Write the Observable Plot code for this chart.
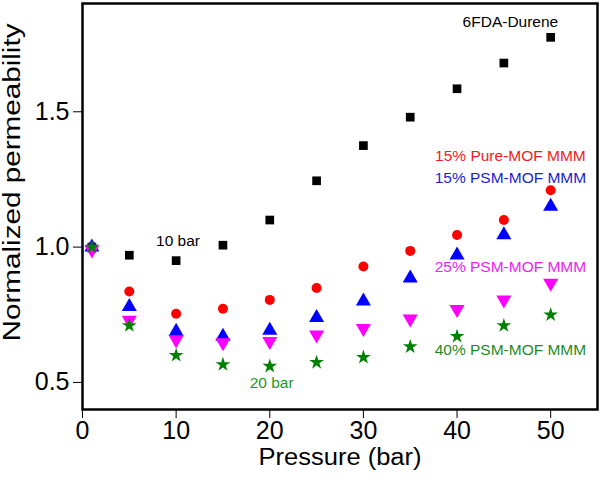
<!DOCTYPE html>
<html><head><meta charset="utf-8">
<script src="https://cdn.jsdelivr.net/npm/d3@7"></script>
<script src="https://cdn.jsdelivr.net/npm/@observablehq/plot@0.6"></script>
<style>body{margin:0;background:#fff;} svg{display:block;}</style>
</head><body><div id="chart"></div>
<script>
const pressure = [1, 5, 10, 15, 20, 25, 30, 35, 40, 45, 50];
const durene   = [1.00, 0.97, 0.95, 1.007, 1.10, 1.245, 1.375, 1.48, 1.585, 1.68, 1.775];
const pure15   = [1.00, 0.836, 0.754, 0.772, 0.805, 0.849, 0.928, 0.986, 1.045, 1.10, 1.21];
const psm15    = [1.00, 0.78, 0.688, 0.67, 0.692, 0.739, 0.80, 0.885, 0.97, 1.045, 1.15];
const psm25    = [0.99, 0.73, 0.658, 0.647, 0.652, 0.676, 0.70, 0.735, 0.77, 0.805, 0.867];
const psm40    = [1.00, 0.71, 0.60, 0.566, 0.56, 0.574, 0.593, 0.632, 0.67, 0.71, 0.75];
const xTicks = [0, 10, 20, 30, 40, 50];
const yTicks = [0.5, 1.0, 1.5];
const labels = [
  {text: "6FDA-Durene", x: 45.7, y: 1.83, color: "#000000"},
  {text: "10 bar", x: 10.2, y: 1.022, color: "#000000"},
  {text: "15% Pure-MOF MMM", x: 45.7, y: 1.338, color: "#ee1c24"},
  {text: "15% PSM-MOF MMM", x: 45.7, y: 1.254, color: "#1c1ccc"},
  {text: "25% PSM-MOF MMM", x: 45.7, y: 0.926, color: "#ee22ee"},
  {text: "40% PSM-MOF MMM", x: 45.7, y: 0.618, color: "#1f8a1f"},
  {text: "20 bar", x: 20.2, y: 0.496, color: "#1f9a1f"}
];
const series = [
  {values: durene, symbol: "square", color: "#000000", r: 4.9, rotate: 0},
  {values: pure15, symbol: "circle", color: "#ff0000", r: 5, rotate: 0},
  {values: psm15, symbol: "triangle", color: "#0000ff", r: 5.6, rotate: 0},
  {values: psm25, symbol: "triangle", color: "#ff00ff", r: 5.6, rotate: 180},
  {values: psm40, symbol: "star", color: "#008000", r: 4.6, rotate: 0}
];
const dotMarks = series.map(s => Plot.dot(pressure.map((p, i) => ({x: p, y: s.values[i]})), {
  x: "x", y: "y", symbol: () => s.symbol, fill: s.color, stroke: "none", r: s.r, rotate: s.rotate
}));
const chart = Plot.plot({
  width: 600, height: 482,
  marginLeft: 82, marginRight: 3, marginTop: 3, marginBottom: 73,
  style: {fontFamily: "'Liberation Sans', Arial, sans-serif", background: "#fff"},
  x: {domain: [0, 55]},
  y: {domain: [0.4, 1.9]},
  symbol: {type: "identity"},
  marks: [
    Plot.axisX({ticks: xTicks, tickSize: 9, tickWidth: 2, tickPadding: 3, fontSize: 25, fill: "#000", stroke: "#000",
      label: null}),
    Plot.axisY({ticks: yTicks, tickFormat: d3.format(".1f"), tickSize: 9, tickWidth: 2, tickPadding: 4, fontSize: 25, fill: "#000", stroke: "#000",
      label: "Normalized permeability", labelAnchor: "center", labelArrow: "none", labelOffset: 79}),
    Plot.axisX({ticks: [], tickSize: 0, label: "Pressure (bar)", labelAnchor: "center", labelArrow: "none", labelOffset: 55, fontSize: 23, fill: "#000"}),
    ...dotMarks,
    Plot.text(labels, {x: "x", y: "y", text: "text", fill: "color", fontSize: 15.5}),
    Plot.frame({stroke: "#000", strokeWidth: 2.5})
  ]
});
// stretch the axis titles to the reference's lengths and place the y title as in the reference
const yLab = d3.select(chart).select("g[aria-label='y-axis label']");
yLab.attr("transform", "translate(0,-24) " + (yLab.attr("transform") || ""));
yLab.selectAll("text")
  .attr("font-size", 23).attr("textLength", 318).attr("lengthAdjust", "spacingAndGlyphs");
d3.select(chart).selectAll("g[aria-label='x-axis label'] text")
  .attr("textLength", 163).attr("lengthAdjust", "spacingAndGlyphs");
document.getElementById("chart").append(chart);
</script></body></html>
